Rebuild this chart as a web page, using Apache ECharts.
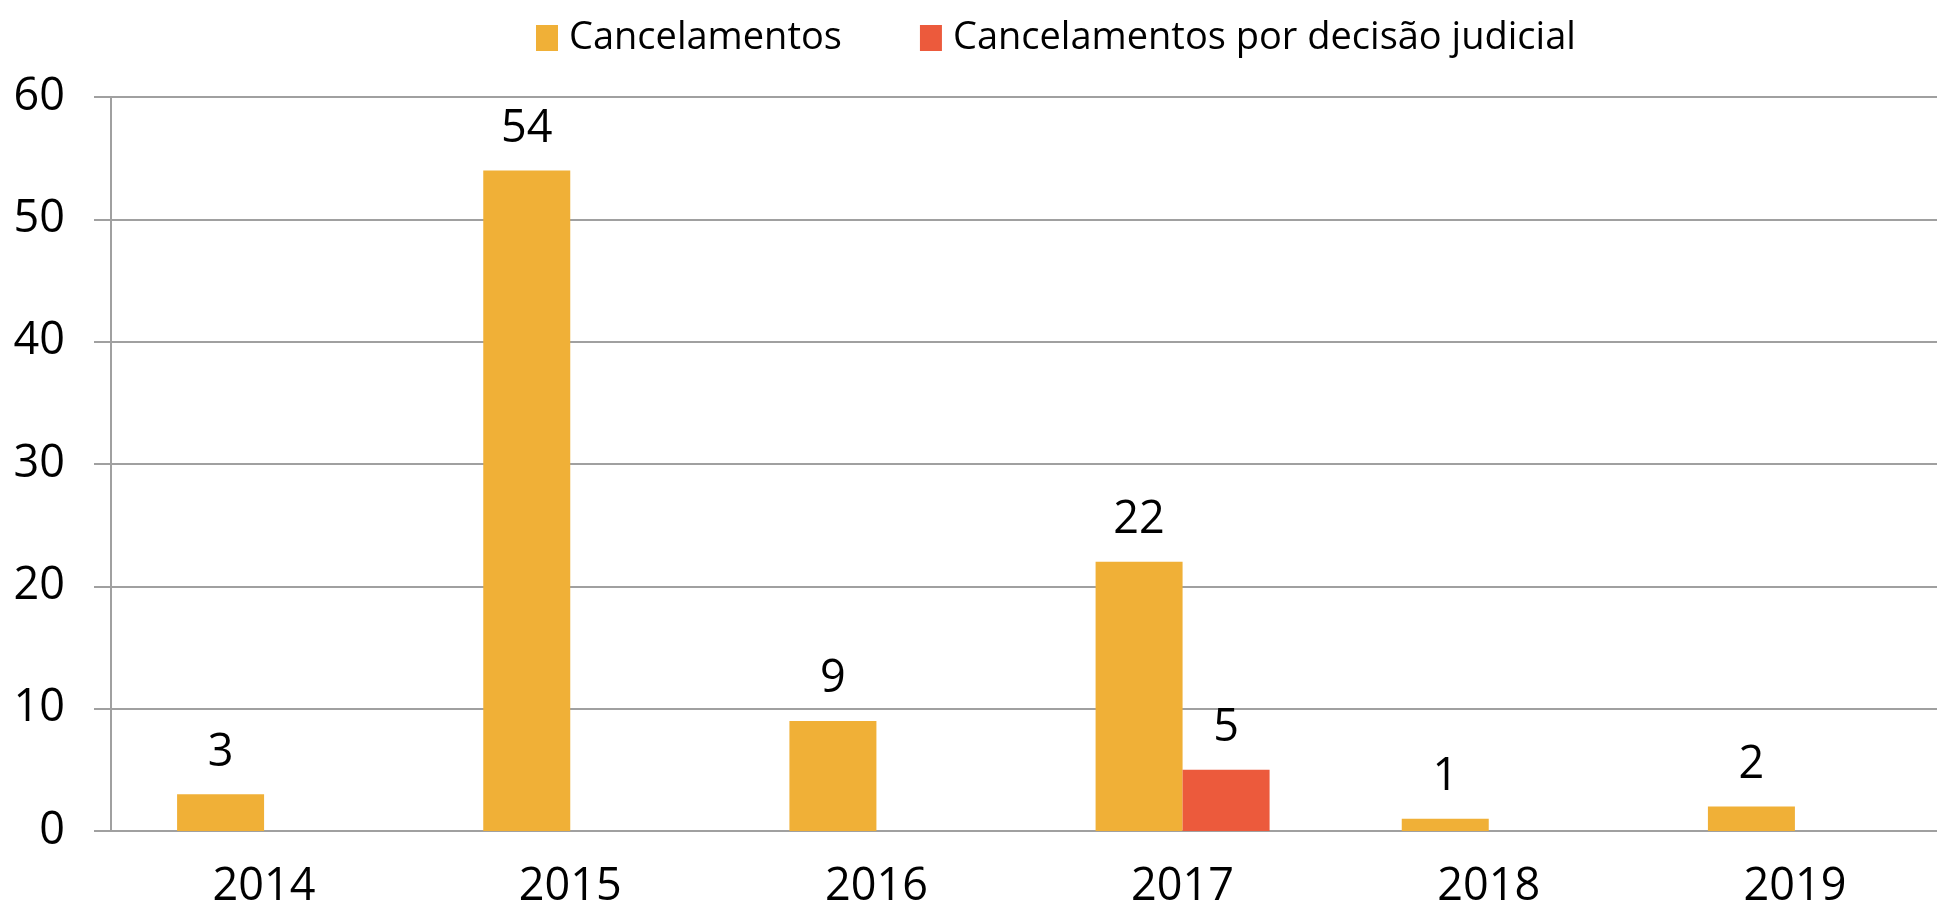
<!DOCTYPE html>
<html>
<head>
<meta charset="utf-8">
<script src="https://cdn.jsdelivr.net/npm/echarts@6/dist/echarts.min.js"></script>
<style>
  html, body { margin: 0; padding: 0; background: #fff; }
  #chart { width: 1937px; height: 913px; }
</style>
</head>
<body>
<div id="chart"></div>
<script>
// data
const years = ['2014', '2015', '2016', '2017', '2018', '2019']
const cancelamentos = [3, 54, 9, 22, 1, 2]
const cancelJudicial = [null, null, null, 5, null, null]
const seriesNames = ['Cancelamentos', 'Cancelamentos por decisão judicial']

const chart = echarts.init(document.getElementById('chart'))
const axisGray = '#a0a0a0'
const font = 'Open Sans'

const numLabel = {
  show: true,
  position: 'top',
  distance: 19,
  fontFamily: font,
  fontSize: 45,
  color: '#000'
}

const option = {
  animation: false,
  textStyle: { fontFamily: font, color: '#000' },
  grid: {
    left: 111,
    top: 97,
    width: 1837,
    bottom: 82,
    outerBoundsMode: 'none'
  },
  legend: {
    left: 531,
    top: 14,
    itemWidth: 22,
    itemHeight: 26,
    itemGap: 78,
    icon: 'rect',
    data: seriesNames,
    textStyle: {
      fontFamily: font,
      fontSize: 38,
      color: '#000',
      padding: [0, 0, 0, 6]
    }
  },
  xAxis: {
    type: 'category',
    data: years,
    axisLine: { lineStyle: { color: axisGray, width: 2 } },
    axisTick: { length: 17, lineStyle: { color: axisGray, width: 2 } },
    axisLabel: { fontFamily: font, fontSize: 45, color: '#000', margin: 34 }
  },
  yAxis: {
    type: 'value',
    min: 0,
    max: 60,
    interval: 10,
    axisLine: { show: true, lineStyle: { color: axisGray, width: 2 } },
    axisTick: { show: true, length: 17, lineStyle: { color: axisGray, width: 2 } },
    splitLine: { lineStyle: { color: axisGray, width: 2 } },
    axisLabel: { fontFamily: font, fontSize: 45, color: '#000', margin: 46 }
  },
  series: [
    {
      type: 'bar',
      name: seriesNames[0],
      data: cancelamentos,
      barWidth: 87,
      barGap: 0,
      itemStyle: { color: '#F0B037' },
      label: numLabel
    },
    {
      type: 'bar',
      name: seriesNames[1],
      data: cancelJudicial,
      barWidth: 87,
      barGap: 0,
      itemStyle: { color: '#EC5A3C' },
      label: numLabel
    }
  ]
}
chart.setOption(option)
</script>
</body>
</html>
